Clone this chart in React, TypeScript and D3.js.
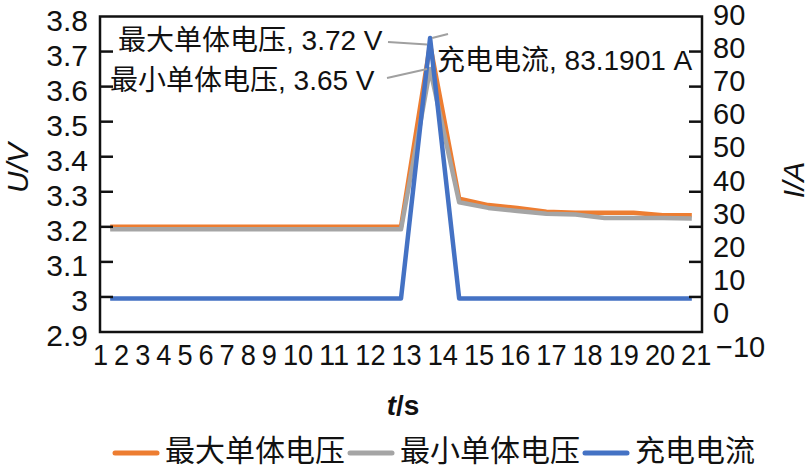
import * as d3 from 'd3';
import React from 'react';

// data
const time = [1, 2, 3, 4, 5, 6, 7, 8, 9, 10, 11, 12, 13, 14, 15, 16, 17, 18, 19, 20, 21];
const maxVoltage = [3.2, 3.2, 3.2, 3.2, 3.2, 3.2, 3.2, 3.2, 3.2, 3.2, 3.2, 3.72, 3.28, 3.262, 3.254, 3.243, 3.24, 3.24, 3.24, 3.233, 3.233];
const minVoltage = [3.193, 3.193, 3.193, 3.193, 3.193, 3.193, 3.193, 3.193, 3.193, 3.193, 3.193, 3.65, 3.27, 3.254, 3.245, 3.237, 3.235, 3.225, 3.225, 3.225, 3.224];
const current = [0.6, 0.6, 0.6, 0.6, 0.6, 0.6, 0.6, 0.6, 0.6, 0.6, 0.6, 83.1901, 0.6, 0.6, 0.6, 0.6, 0.6, 0.6, 0.6, 0.6, 0.6];

const leftTicks = [2.9, 3, 3.1, 3.2, 3.3, 3.4, 3.5, 3.6, 3.7, 3.8];
const rightTicks = [90, 80, 70, 60, 50, 40, 30, 20, 10, 0, -10];
const seriesNames = ['最大单体电压', '最小单体电压', '充电电流'];
const colors = ['#ED7D31', '#A5A5A5', '#4472C4'];

const W = 808, H = 469;
const L = 100, R = 702, T = 16.5, B = 332;
const FONT = "'Liberation Sans', Arial, 'Noto Sans CJK SC', sans-serif";

export default function App() {
    const x = d3.scalePoint<number>().domain(time).range([L, R]).padding(0.35);
    const yL = d3.scaleLinear().domain([2.9, 3.8]).range([B, T]);
    const yR = d3.scaleLinear().domain([-10, 90]).range([B, T]);
    const yRLabel = d3.scaleLinear().domain([-10, 90]).range([346, 14]);

    const lineL = d3.line<number>().x((_, i) => x(time[i])!).y(d => yL(d));
    const lineR = d3.line<number>().x((_, i) => x(time[i])!).y(d => yR(d));

    // x tick labels are packed one after another
    let left = 93;
    const xLabels = time.map(t => {
        const s = String(t);
        const w = s.length * 15.1;
        const c = left + w / 2;
        left += w + 6;
        return { s, c, w };
    });

    const peak = x(12)!;
    const innerTicks = leftTicks.filter(v => v > 2.9 && v < 3.8);

    // legend layout
    let lx = 115;
    const legend = seriesNames.map((name, i) => {
        const item = { name, color: colors[i], x0: lx, tx: lx + 50 };
        lx = item.tx + name.length * 30 + 5;
        return item;
    });

    return (
        <svg width={W} height={H} style={{ position: 'fixed', left: 0, top: 0, background: '#fff' }}
            fontFamily={FONT}>
            {/* series */}
            <path d={lineL(maxVoltage)!} fill="none" stroke={colors[0]} strokeWidth={4.5} strokeLinejoin="round" />
            <path d={lineL(minVoltage)!} fill="none" stroke={colors[1]} strokeWidth={4.5} strokeLinejoin="round" />
            <path d={lineR(current)!} fill="none" stroke={colors[2]} strokeWidth={4.5} strokeLinejoin="round" />

            {/* frame */}
            <rect x={L} y={T} width={R - L} height={B - T} fill="none" stroke="#111" strokeWidth={2.5} />
            {innerTicks.map(v => (
                <g key={v}>
                    <line x1={L} x2={L + 13} y1={yL(v)} y2={yL(v)} stroke="#111" strokeWidth={2.5} />
                    <line x1={R - 13} x2={R} y1={yL(v)} y2={yL(v)} stroke="#111" strokeWidth={2.5} />
                </g>
            ))}

            {/* left axis labels */}
            {leftTicks.map(v => (
                <text key={v} x={88} y={yL(v) + 3.5 + 10.7} fontSize={30} textAnchor="end" fill="#111">
                    {d3.format('')(+v.toFixed(1))}
                </text>
            ))}
            {/* right axis labels */}
            {rightTicks.map(v => (
                <text key={v} x={v < 0 ? 716 : 713} y={yRLabel(v) + 10.5} fontSize={29} fill="#111">
                    {v < 0 ? '−' + Math.abs(v) : v}
                </text>
            ))}
            {/* x labels */}
            {xLabels.map(d => (
                <text key={d.s} x={d.c} y={365} fontSize={30} textAnchor="middle" fill="#111"
                    textLength={d.w} lengthAdjust="spacingAndGlyphs">{d.s}</text>
            ))}

            {/* axis titles */}
            <text transform="translate(17,168) rotate(-90)" fontSize={30} fontStyle="italic"
                textAnchor="middle" dominantBaseline="central" fill="#111">U/V</text>
            <text transform="translate(793,180) rotate(-90)" fontSize={30} fontStyle="italic"
                textAnchor="middle" dominantBaseline="central" fill="#111">I/A</text>
            <text x={403} y={415} fontSize={28} fontWeight="bold" textAnchor="middle" fill="#111">
                <tspan fontStyle="italic">t</tspan>/s
            </text>

            {/* data labels with leader lines */}
            <line x1={388} y1={42} x2={peak - 3} y2={yL(3.72)} stroke="#A0A0A0" strokeWidth={2} />
            <line x1={387} y1={78} x2={peak - 3} y2={yL(3.65)} stroke="#A0A0A0" strokeWidth={2} />
            <line x1={peak + 2} y1={yR(83.1901)} x2={448} y2={34} stroke="#A0A0A0" strokeWidth={2} />
            <text x={118} y={50} fontSize={28} fill="#111">{seriesNames[0]}, {maxVoltage[11]} V</text>
            <text x={110} y={90} fontSize={28} fill="#111">{seriesNames[1]}, {minVoltage[11]} V</text>
            <text x={437} y={70} fontSize={28} fill="#111">{seriesNames[2]}, {current[11]} A</text>

            {/* legend */}
            {legend.map(d => (
                <g key={d.name}>
                    <line x1={d.x0} x2={d.x0 + 42} y1={453} y2={453} stroke={d.color} strokeWidth={5} strokeLinecap="round" />
                    <text x={d.tx} y={461} fontSize={30} fill="#111">{d.name}</text>
                </g>
            ))}
        </svg>
    );
}
